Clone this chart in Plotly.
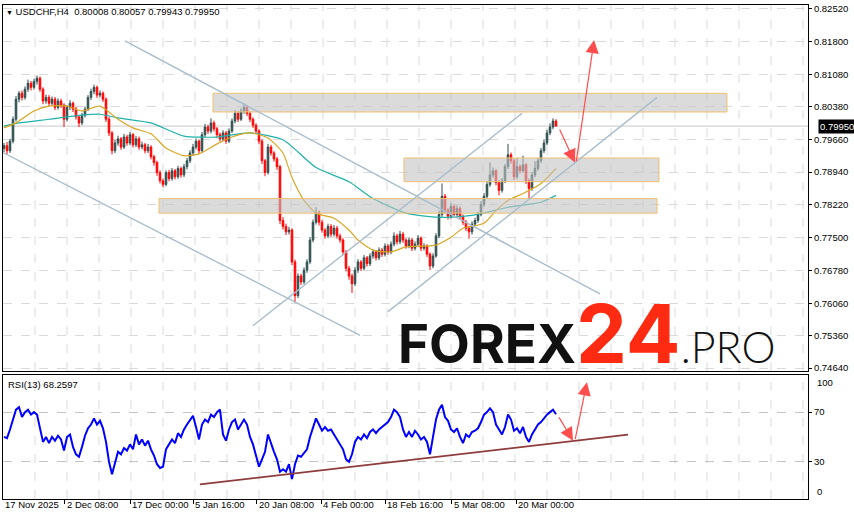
import plotly.graph_objects as go

W, H = 854, 521

# ---------------- data ----------------
first_open = 0.7946
closes = [
    0.7952,0.7941,0.7962,0.8010,0.8054,0.8067,0.8058,0.8076,0.8089,0.8080,
    0.8093,0.8100,0.8076,0.8050,0.8058,0.8045,0.8054,0.8036,0.8050,0.8041,
    0.8010,0.8036,0.8045,0.8032,0.8015,0.8002,0.8019,0.8032,0.8058,0.8071,
    0.8080,0.8063,0.8067,0.8054,0.8010,0.7980,0.7941,0.7958,0.7967,0.7949,
    0.7971,0.7958,0.7976,0.7954,0.7967,0.7949,0.7954,0.7941,0.7949,0.7928,
    0.7915,0.7893,0.7875,0.7867,0.7893,0.7880,0.7897,0.7884,0.7902,0.7888,
    0.7906,0.7919,0.7936,0.7949,0.7962,0.7941,0.7976,0.7993,0.7984,0.8002,
    0.7989,0.7976,0.7967,0.7980,0.7962,0.7984,0.8006,0.8023,0.8010,0.8028,
    0.8036,0.8023,0.8010,0.7997,0.7984,0.7962,0.7919,0.7893,0.7949,0.7936,
    0.7923,0.7906,0.7788,0.7775,0.7763,0.7767,0.7697,0.7623,0.7666,0.7653,
    0.7679,0.7697,0.7745,0.7784,0.7806,0.7784,0.7767,0.7754,0.7775,0.7758,
    0.7771,0.7754,0.7745,0.7719,0.7683,0.7666,0.7649,0.7679,0.7697,0.7683,
    0.7706,0.7693,0.7710,0.7719,0.7706,0.7723,0.7714,0.7732,0.7719,0.7736,
    0.7754,0.7741,0.7758,0.7745,0.7732,0.7745,0.7727,0.7736,0.7749,0.7727,
    0.7732,0.7714,0.7688,0.7710,0.7754,0.7801,0.7841,0.7810,0.7797,0.7819,
    0.7801,0.7814,0.7797,0.7784,0.7771,0.7763,0.7780,0.7788,0.7801,0.7823,
    0.7841,0.7867,0.7888,0.7897,0.7871,0.7854,0.7875,0.7906,0.7932,0.7919,
    0.7884,0.7906,0.7897,0.7910,0.7875,0.7858,0.7888,0.7902,0.7919,0.7941,
    0.7958,0.7980,0.7993,0.8006,0.7995,
]
highs = [
    0.7958,0.7960,0.7967,0.8016,0.8061,0.8072,0.8073,0.8082,0.8097,0.8094,
    0.8099,0.8106,0.8104,0.8080,0.8064,0.8063,0.8060,0.8059,0.8056,0.8055,
    0.8045,0.8041,0.8052,0.8049,0.8037,0.8019,0.8024,0.8038,0.8063,0.8077,
    0.8086,0.8084,0.8073,0.8071,0.8058,0.8015,0.7984,0.7965,0.7974,0.7971,
    0.7978,0.7976,0.7982,0.7980,0.7973,0.7972,0.7961,0.7958,0.7956,0.7953,
    0.7932,0.7919,0.7898,0.7880,0.7898,0.7899,0.7903,0.7901,0.7908,0.7906,
    0.7912,0.7925,0.7942,0.7956,0.7968,0.7966,0.7982,0.8000,0.7998,0.8012,
    0.8007,0.7993,0.7981,0.7986,0.7984,0.7990,0.8012,0.8030,0.8028,0.8034,
    0.8045,0.8041,0.8027,0.8014,0.8001,0.7988,0.7966,0.7923,0.7956,0.7954,
    0.7940,0.7927,0.7910,0.7795,0.7781,0.7774,0.7771,0.7702,0.7672,0.7671,
    0.7685,0.7703,0.7751,0.7790,0.7817,0.7810,0.7789,0.7771,0.7781,0.7780,
    0.7778,0.7776,0.7759,0.7749,0.7723,0.7688,0.7671,0.7686,0.7703,0.7701,
    0.7712,0.7710,0.7716,0.7725,0.7723,0.7729,0.7728,0.7738,0.7736,0.7742,
    0.7762,0.7759,0.7765,0.7763,0.7749,0.7751,0.7750,0.7742,0.7756,0.7753,
    0.7738,0.7736,0.7718,0.7716,0.7760,0.7810,0.7869,0.7846,0.7815,0.7826,
    0.7823,0.7821,0.7819,0.7801,0.7789,0.7776,0.7786,0.7794,0.7807,0.7830,
    0.7848,0.7874,0.7915,0.7904,0.7901,0.7876,0.7881,0.7912,0.7956,0.7937,
    0.7923,0.7925,0.7911,0.7930,0.7914,0.7880,0.7894,0.7918,0.7925,0.7947,
    0.7965,0.7987,0.8001,0.8012,0.8010,
]
lows = [
    0.7938,0.7932,0.7936,0.7957,0.8005,0.8047,0.8051,0.8053,0.8070,0.8073,
    0.8075,0.8086,0.8070,0.8043,0.8044,0.8039,0.8040,0.8030,0.8031,0.8035,
    0.7993,0.8005,0.8030,0.8026,0.8009,0.7993,0.7997,0.8014,0.8028,0.8052,
    0.8065,0.8057,0.8058,0.8048,0.8004,0.7973,0.7933,0.7936,0.7952,0.7943,
    0.7945,0.7952,0.7953,0.7948,0.7949,0.7943,0.7944,0.7935,0.7936,0.7922,
    0.7908,0.7886,0.7869,0.7861,0.7863,0.7874,0.7875,0.7878,0.7879,0.7882,
    0.7883,0.7900,0.7914,0.7930,0.7944,0.7935,0.7937,0.7970,0.7978,0.7979,
    0.7983,0.7970,0.7961,0.7962,0.7956,0.7958,0.7980,0.8001,0.8004,0.8006,
    0.8022,0.8017,0.8004,0.7991,0.7978,0.7955,0.7912,0.7885,0.7889,0.7930,
    0.7917,0.7899,0.7780,0.7768,0.7756,0.7757,0.7690,0.7608,0.7618,0.7646,
    0.7648,0.7673,0.7692,0.7740,0.7779,0.7777,0.7761,0.7748,0.7750,0.7752,
    0.7753,0.7748,0.7739,0.7712,0.7676,0.7658,0.7629,0.7644,0.7673,0.7677,
    0.7679,0.7687,0.7688,0.7704,0.7700,0.7701,0.7708,0.7709,0.7713,0.7714,
    0.7731,0.7735,0.7736,0.7739,0.7726,0.7727,0.7721,0.7722,0.7731,0.7721,
    0.7722,0.7708,0.7679,0.7683,0.7706,0.7749,0.7796,0.7803,0.7790,0.7792,
    0.7795,0.7796,0.7791,0.7778,0.7765,0.7748,0.7757,0.7774,0.7783,0.7797,
    0.7818,0.7836,0.7862,0.7882,0.7865,0.7843,0.7849,0.7870,0.7901,0.7913,
    0.7877,0.7879,0.7891,0.7892,0.7868,0.7836,0.7853,0.7883,0.7897,0.7914,
    0.7936,0.7953,0.7975,0.7988,0.7994,
]
rsi = [
    50,49,56,65,72,74,66,70,72,68,
    70,68,56,46,50,45,50,47,51,48,
    39,50,52,42,36,34,42,51,57,60,
    65,60,63,57,46,30,20,30,38,36,
    41,39,44,40,52,44,48,43,47,40,
    35,28,25,26,40,44,48,45,53,50,
    56,60,64,67,58,48,60,64,62,68,
    66,70,72,52,47,56,62,64,56,60,
    64,60,50,44,36,26,32,38,52,44,
    38,32,22,24,22,28,16,28,35,34,
    37,40,50,58,65,60,55,58,55,56,
    52,48,44,40,32,30,36,46,50,48,
    52,49,54,56,53,56,58,60,62,66,
    72,70,66,56,50,54,50,55,52,48,
    50,46,36,50,64,72,76,66,63,56,
    54,57,50,45,52,50,54,55,57,62,
    68,70,73,70,60,56,52,58,68,64,
    55,57,53,58,50,46,52,56,60,62,
    65,68,70,72,68.2597,
]
# moving averages read at sampled bars
ma_slow_idx = [0,5,15,26,32,38,49,60,71,82,93,104,115,123,134,145,156,168,179,184]
ma_slow = [0.7995,0.8002,0.8010,0.8019,0.8021,0.8013,0.8002,0.7973,0.7971,0.7980,
           0.7965,0.7904,0.7873,0.7836,0.7804,0.7795,0.7799,0.7817,0.7828,0.7843]
ma_fast_idx = [0,4,10,15,21,26,32,38,43,49,54,60,65,71,76,82,88,93,96,100,104,110,
               115,118,123,129,134,144,149,153,160,164,168,173,179,184]
ma_fast = [0.7991,0.8002,0.8028,0.8039,0.8039,0.8028,0.8039,0.8010,0.7991,0.7978,
           0.7947,0.7930,0.7934,0.7956,0.7971,0.7980,0.7969,0.7936,0.7882,0.7832,
           0.7804,0.7793,0.7767,0.7745,0.7723,0.7719,0.7730,0.7734,0.7751,0.7771,
           0.7782,0.7810,0.7832,0.7847,0.7869,0.7902]

price_ticks = [0.82520,0.81800,0.81080,0.80380,0.79660,0.78940,0.78220,
               0.77500,0.76780,0.76060,0.75360,0.74640]
date_labels = ["17 Nov 2025","2 Dec 08:00","17 Dec 00:00","5 Jan 16:00","20 Jan 08:00",
               "4 Feb 00:00","18 Feb 16:00","5 Mar 08:00","20 Mar 00:00"]
date_pos = [-0.33,20.33,42,63,84.33,105.67,127,149.33,170.67]

# analysis drawings (bar index, price)
zones = [(69.67,241,0.8067,0.8026),(133.33,218.33,0.7925,0.7873),(51.67,217.67,0.7836,0.7804)]
trend_lines = [(40.33,0.8182,198.67,0.7627),(-0.33,0.7937,118.67,0.7536),
               (83,0.7557,172.67,0.8023),(128,0.7588,217.67,0.8058)]
price_arrows = [(185,0.7991,190.3,0.7915),(190.7,0.7915,196.7,0.8184)]
rsi_arrows = [(184.7,67,189.7,47),(190.3,47,194.3,94)]
rsi_line = (65.3,11.8,208,51.8)

# ---------------- figure ----------------
n = len(closes)
idx = list(range(n))
opens = [first_open] + closes[:-1]

FONT = "Liberation Sans, Arial, sans-serif"
fig = go.Figure()
fig.add_trace(go.Candlestick(
    x=idx, open=opens, high=highs, low=lows, close=closes,
    xaxis="x2", yaxis="y",
    increasing=dict(line=dict(color="#2F4F4F", width=1), fillcolor="#2F4F4F"),
    decreasing=dict(line=dict(color="#FF0000", width=1), fillcolor="#FF0000"),
    whiskerwidth=0, hoverinfo="skip"))
fig.add_trace(go.Scatter(x=ma_slow_idx, y=ma_slow, mode="lines", xaxis="x2", yaxis="y",
                         line=dict(color="#20B2AA", width=1.2, shape="spline", smoothing=0.6)))
fig.add_trace(go.Scatter(x=ma_fast_idx, y=ma_fast, mode="lines", xaxis="x2", yaxis="y",
                         line=dict(color="#DAA520", width=1.2, shape="spline", smoothing=0.6)))
fig.add_trace(go.Scatter(x=idx, y=rsi, mode="lines", xaxis="x", yaxis="y2",
                         line=dict(color="#0000FF", width=2)))

xr = [-0.333, 268]
main_dom = [1 - 372 / H, 1 - 3 / H]
rsi_dom = [1 - 500.8 / H, 1 - 375.8 / H]
xdom = [3 / W, 808 / W]

fig.update_layout(
    width=W, height=H, margin=dict(l=0, r=0, t=0, b=0), autosize=False,
    paper_bgcolor="white", plot_bgcolor="white", showlegend=False, boxgap=0.25,
    font=dict(family=FONT, size=9.5, color="black"),
    xaxis=dict(domain=xdom, range=xr, anchor="y2", showgrid=False, zeroline=False,
               showline=True, linecolor="black", linewidth=1, mirror=True,
               ticks="outside", ticklen=4, tickcolor="black", tickvals=date_pos[1:],
               showticklabels=False, rangeslider=dict(visible=False)),
    xaxis2=dict(domain=xdom, range=xr, anchor="y", matches="x", showgrid=False,
                zeroline=False, showline=True, linecolor="black", linewidth=1, mirror=True,
                showticklabels=False, ticks="", rangeslider=dict(visible=False)),
    yaxis=dict(domain=main_dom, range=[0.74574, 0.82607], side="right", anchor="x2",
               tickvals=price_ticks, ticktext=[f"{v:.5f}" for v in price_ticks],
               ticks="outside", ticklen=3, tickcolor="black", showgrid=True,
               gridcolor="#DADADA", griddash="dash", gridwidth=1, zeroline=False,
               showline=True, linecolor="black", linewidth=1, mirror=True,
               tickfont=dict(family=FONT, size=9.5)),
    yaxis2=dict(domain=rsi_dom, range=[0, 100], side="right", anchor="x",
                tickvals=[70, 30], ticktext=["70", "30"], ticks="outside", ticklen=3,
                tickcolor="black", showgrid=True, gridcolor="#C4C4C4", griddash="dash",
                zeroline=False, showline=True, linecolor="black", linewidth=1, mirror=True,
                tickfont=dict(family=FONT, size=9.5)),
)

shapes = []
# vertical dashed grid
k = 0
while True:
    gx = 10.333 + 10.667 * k
    if gx > 267:
        break
    for dom in (main_dom, rsi_dom):
        shapes.append(dict(type="line", xref="x", yref="paper", x0=gx, x1=gx,
                           y0=dom[0], y1=dom[1], layer="below",
                           line=dict(color="#DADADA", width=1, dash="dash")))
    k += 1
# current price line
shapes.append(dict(type="line", xref="paper", yref="y", x0=xdom[0], x1=xdom[1],
                   y0=closes[-1], y1=closes[-1], layer="below",
                   line=dict(color="#C8C8C8", width=1)))
for x0, x1, y0, y1 in zones:
    shapes.append(dict(type="rect", xref="x2", yref="y", x0=x0, x1=x1, y0=y0, y1=y1,
                       layer="above", fillcolor="rgba(195,195,195,0.6)",
                       line=dict(color="#F0C070", width=1)))
for x0, y0, x1, y1 in trend_lines:
    shapes.append(dict(type="line", xref="x2", yref="y", x0=x0, y0=y0, x1=x1, y1=y1,
                       layer="above", line=dict(color="#A9BDCC", width=1.4)))
x0, y0, x1, y1 = rsi_line
shapes.append(dict(type="line", xref="x", yref="y2", x0=x0, y0=y0, x1=x1, y1=y1,
                   layer="above", line=dict(color="#8E3B3B", width=1.8)))
fig.update_layout(shapes=shapes)

ann = []
for tx, ty, hx, hy in price_arrows:
    ann.append(dict(x=hx, y=hy, ax=tx, ay=ty, xref="x2", yref="y", axref="x2", ayref="y",
                    showarrow=True, arrowhead=2, arrowsize=2.2, arrowwidth=1.2,
                    arrowcolor="#FF4D4D", text=""))
for tx, ty, hx, hy in rsi_arrows:
    ann.append(dict(x=hx, y=hy, ax=tx, ay=ty, xref="x", yref="y2", axref="x", ayref="y2",
                    showarrow=True, arrowhead=2, arrowsize=2.2, arrowwidth=1.2,
                    arrowcolor="#FF4D4D", text=""))
for lab, p in zip(date_labels, date_pos):
    ann.append(dict(x=p, y=1 - 506 / H, xref="x", yref="paper", xanchor="left",
                    yanchor="middle", text=lab, showarrow=False,
                    font=dict(family=FONT, size=9.5, color="black")))
ann.append(dict(x=815 / W, y=94, xref="paper", yref="y2", xanchor="left", yanchor="middle",
                text="100", showarrow=False, font=dict(family=FONT, size=9.5)))
ann.append(dict(x=815 / W, y=6, xref="paper", yref="y2", xanchor="left", yanchor="middle",
                text="0", showarrow=False, font=dict(family=FONT, size=9.5)))
ann.append(dict(x=818 / W, y=closes[-1], xref="paper", yref="y", xanchor="left",
                yanchor="middle", text=f"{closes[-1]:.5f}", showarrow=False,
                bgcolor="black", borderpad=1, font=dict(family=FONT, size=9.5, color="white")))
ann.append(dict(x=4 / W, y=1 - 10 / H, xref="paper", yref="paper", xanchor="left",
                yanchor="middle", showarrow=False,
                text="<span style='font-size:7px'>▼</span> USDCHF,H4  0.80008 0.80057 0.79943 0.79950",
                font=dict(family=FONT, size=9.5, color="black")))
ann.append(dict(x=6 / W, y=1 - 385 / H, xref="paper", yref="paper", xanchor="left",
                yanchor="middle", showarrow=False, text=f"RSI(13) {rsi[-1]:.4f}",
                font=dict(family=FONT, size=9.5, color="black")))
ann.append(dict(x=396 / W, y=1 - 386 / H, xref="paper", yref="paper", xanchor="left",
                yanchor="bottom", showarrow=False,
                text=("<b><span style='font-family:Inter;font-size:53px;color:#111111'>FOREX</span>"
                      "<span style='font-family:Inter;font-size:81px;color:#FF2A12'>24</span></b>"
                      "<span style='font-family:Lato;font-weight:300;font-size:43px;color:#111111'>.PRO</span>")))
fig.update_layout(annotations=ann)

post = ("document.body.style.margin='0';document.body.style.padding='0';"
        "document.documentElement.style.margin='0';document.body.style.overflow='hidden';")
fig.write_html("out.html", post_script=post, config={"displayModeBar": False})
